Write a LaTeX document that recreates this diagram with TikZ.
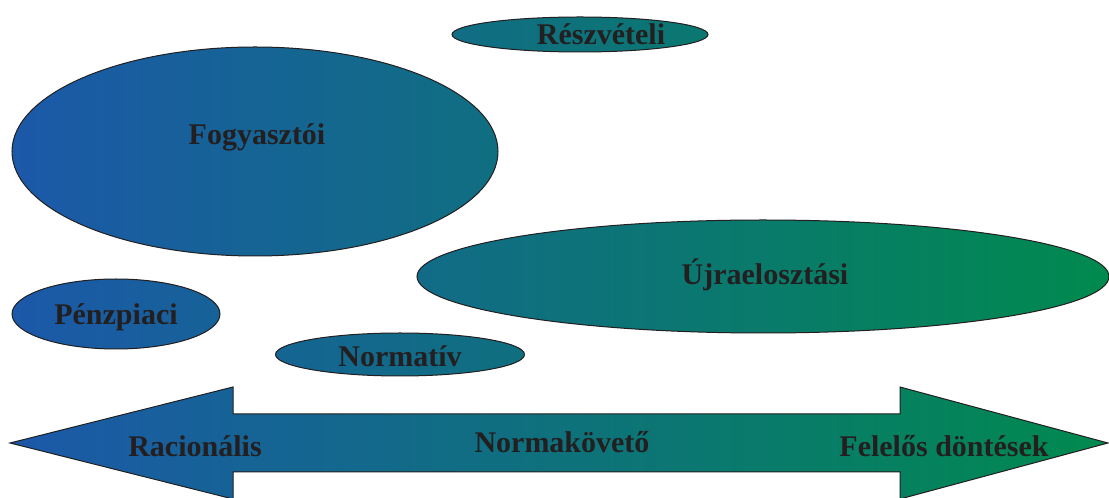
\documentclass[tikz,border=0pt]{standalone}
\usepackage{fontspec}
\setmainfont{Liberation Serif}
\usepackage{tikz}

\definecolor{kek}{RGB}{28,88,170}
\definecolor{turkiz}{RGB}{18,110,130}
\definecolor{zold}{RGB}{0,138,78}
\definecolor{sotet}{RGB}{35,31,32}

\begin{document}
\begin{tikzpicture}[x=1pt, y=1pt,
	hatter/.style={path picture={\shade[left color=kek, middle color=turkiz, right color=zold] (0,0) rectangle (1109,498);}},
	kor/.style={draw=sotet, line width=1pt, hatter},
	felirat/.style={text=sotet, font=\fontsize{30}{36}\selectfont\bfseries, inner sep=0pt}]
	\useasboundingbox (0,0) rectangle (1109,498);
	% the double arrow at the bottom
	\draw[kor] (10,55) -- (233,111) -- (233,84) -- (900,84) -- (900,111) -- (1108,55)
		-- (900,-1) -- (900,26) -- (233,26) -- (233,-1) -- cycle;
	\node[felirat] (racio) at (195,52) {Racionális};
	\node[felirat] (norma) at (562,56) {Normakövető};
	\node[felirat] (felelos) at (944,52) {Felelős döntések};
	% ellipses
	\coordinate (reszv) at (580,463.5);
	\coordinate (fogy) at (255,346.5);
	\coordinate (ujra) at (763,221.5);
	\coordinate (penz) at (116,184);
	\coordinate (normativ) at (400,143.5);
	\draw[kor] (reszv) ellipse [x radius=128, y radius=17.5];
	\draw[kor] (fogy) ellipse [x radius=243, y radius=104.5];
	\draw[kor] (ujra) ellipse [x radius=346, y radius=56.5];
	\draw[kor] (penz) ellipse [x radius=104, y radius=35];
	\draw[kor] (normativ) ellipse [x radius=124.5, y radius=21.5];
	\node[felirat] (reszvtxt) at ([xshift=21]reszv) {Részvételi};
	\node[felirat] (fogytxt) at ([xshift=2, yshift=14]fogy) {Fogyasztói};
	\node[felirat] (ujratxt) at ([xshift=2, yshift=2]ujra) {Újraelosztási};
	\node[felirat] (penztxt) at ([yshift=-3]penz) {Pénzpiaci};
	\node[felirat] (normativtxt) at ([yshift=-2]normativ) {Normatív};
	%\draw[->] (penz) -- (normativ);
\end{tikzpicture}
\end{document}
